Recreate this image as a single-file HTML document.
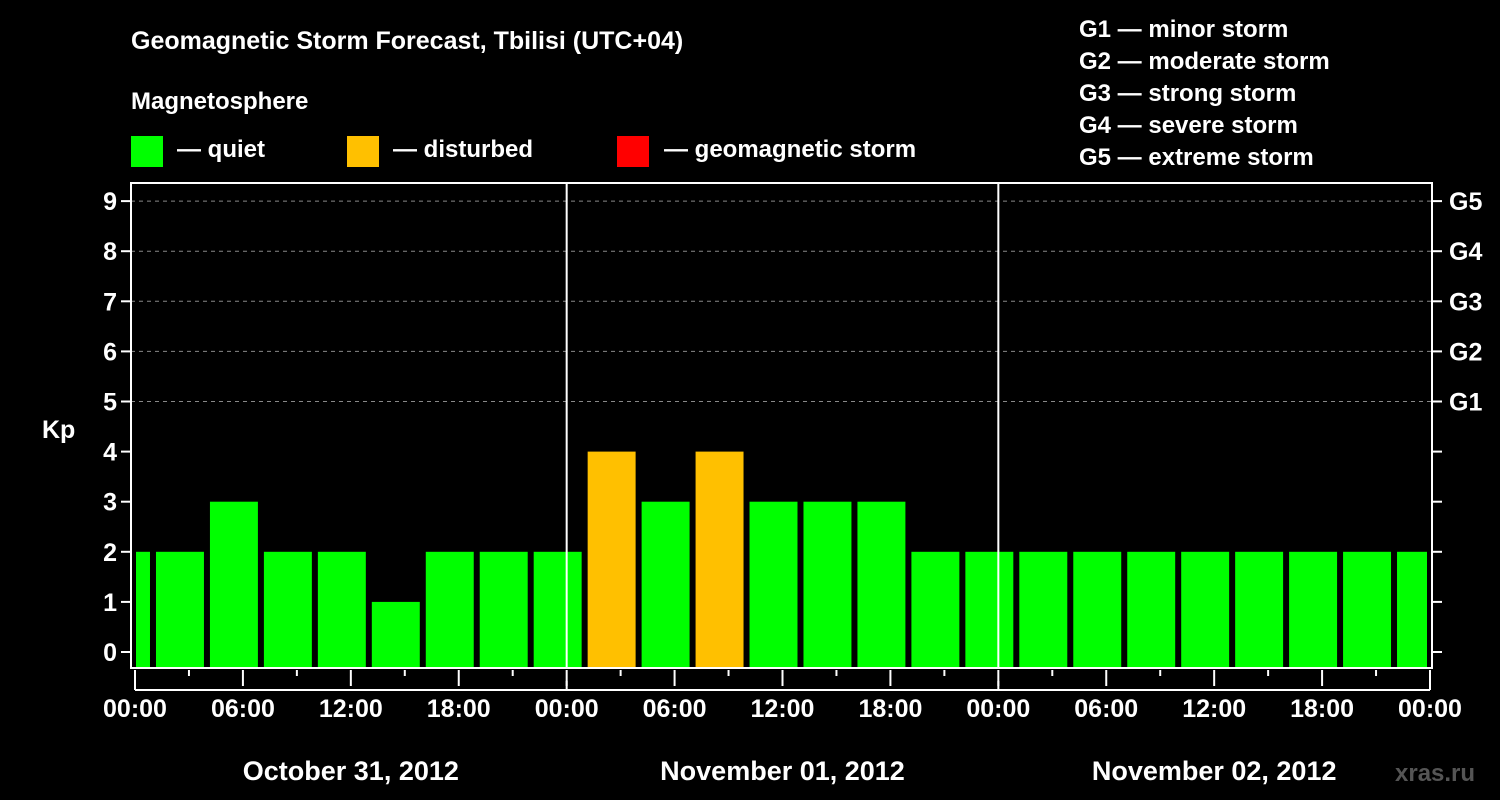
<!DOCTYPE html>
<html><head><meta charset="utf-8"><style>
body{margin:0;background:#000;width:1500px;height:800px;overflow:hidden}
svg{display:block;font-family:"Liberation Sans",Arial,sans-serif;font-weight:bold}
</style></head><body>
<svg id="chart" width="1500" height="800" viewBox="0 0 1500 800">
<rect width="1500" height="800" fill="#000"/>
<text x="131" y="49" fill="#fff" font-size="25">Geomagnetic Storm Forecast, Tbilisi (UTC+04)</text>
<text x="131" y="109" fill="#fff" font-size="24">Magnetosphere</text>
<g><rect x="131" y="136" width="32" height="31" fill="#00ff00"/><text x="177" y="157" fill="#fff" font-size="24">— quiet</text></g>
<g><rect x="347" y="136" width="32" height="31" fill="#ffc000"/><text x="393" y="157" fill="#fff" font-size="24">— disturbed</text></g>
<g><rect x="617" y="136" width="32" height="31" fill="#ff0000"/><text x="664" y="157" fill="#fff" font-size="24">— geomagnetic storm</text></g>
<g fill="#fff" font-size="24">
<text x="1079" y="37">G1 — minor storm</text>
<text x="1079" y="69">G2 — moderate storm</text>
<text x="1079" y="101">G3 — strong storm</text>
<text x="1079" y="133">G4 — severe storm</text>
<text x="1079" y="165">G5 — extreme storm</text>
</g>
<text x="42" y="438" fill="#fff" font-size="25">Kp</text>
<g id="grid"></g><g id="bars"></g><g id="axes"></g>
<text x="1395" y="781" fill="#555" font-size="24">xras.ru</text>
</svg>
<script>
const kpValues=[2,2,3,2,2,1,2,2,2,4,3,4,3,3,3,2,2,2,2,2,2,2,2,2,2];
const barStartHours=[-2,1,4,7,10,13,16,19,22,25,28,31,34,37,40,43,46,49,52,55,58,61,64,67,70];
const timeTickLabels=["00:00","06:00","12:00","18:00","00:00","06:00","12:00","18:00","00:00","06:00","12:00","18:00","00:00"];
const dateLabels=["October 31, 2012","November 01, 2012","November 02, 2012"];
const kpTicks=[0,1,2,3,4,5,6,7,8,9];
const gLabels=["G1","G2","G3","G4","G5"];
const NS="http://www.w3.org/2000/svg";
const X0=135,X1=1430,L=131,R=1432,T=183,B=668;
const xs=h=>X0+(X1-X0)*h/72;
const ys=v=>652-v*50.1;
function mk(tag,attrs,parent,txt){const e=document.createElementNS(NS,tag);for(const k in attrs)e.setAttribute(k,attrs[k]);if(txt!==undefined)e.textContent=txt;parent.appendChild(e);return e;}
const grid=document.getElementById('grid'),bars=document.getElementById('bars'),axes=document.getElementById('axes');
for(let v=5;v<=9;v++){const l=mk('line',{x1:L,x2:R,y1:ys(v),y2:ys(v),stroke:'#888','stroke-dasharray':'4,4','stroke-width':1},grid);

}
kpValues.forEach((v,i)=>{const h0=Math.max(0,barStartHours[i]),h1=Math.min(72,barStartHours[i]+3);
let x0=xs(h0)+(barStartHours[i]<0?1:3),x1=xs(h1)-3;
const col=v>=5?'#ff0000':(v>=4?'#ffc000':'#00ff00');
const r=mk('rect',{x:x0,y:ys(v),width:x1-x0,height:B-ys(v),fill:col},bars);

});
// frame
const f=mk('rect',{x:L,y:T,width:R-L,height:B-T,fill:'none',stroke:'#fff','stroke-width':2},axes);


[24,48].forEach(h=>{const d=mk('line',{x1:xs(h),x2:xs(h),y1:T,y2:B,stroke:'#fff','stroke-width':2},axes);

});
kpTicks.forEach(v=>{mk('line',{x1:L-10,x2:L,y1:ys(v),y2:ys(v),stroke:'#fff','stroke-width':2},axes);
mk('line',{x1:R,x2:R+10,y1:ys(v),y2:ys(v),stroke:'#fff','stroke-width':2},axes);
const t=mk('text',{x:L-14,y:ys(v)+9,fill:'#fff','font-size':25,'text-anchor':'end'},axes,String(v));

});
gLabels.forEach((g,i)=>{const t=mk('text',{x:1449,y:ys(5+i)+9,fill:'#fff','font-size':25},axes,g);

});
for(let h=0;h<=72;h+=3){const major=h%6===0;mk('line',{x1:xs(h),x2:xs(h),y1:B+2,y2:B+(major?18:8),stroke:'#fff','stroke-width':2},axes);}
timeTickLabels.forEach((s,i)=>{const t=mk('text',{x:xs(i*6),y:717,fill:'#fff','font-size':25,'text-anchor':'middle'},axes,s);

});
mk('line',{x1:xs(0),x2:xs(72),y1:690,y2:690,stroke:'#fff','stroke-width':2},axes);
[0,24,48,72].forEach(h=>mk('line',{x1:xs(h),x2:xs(h),y1:681,y2:690,stroke:'#fff','stroke-width':2},axes));
dateLabels.forEach((s,i)=>{const t=mk('text',{x:xs(i*24+12),y:780,fill:'#fff','font-size':27,'text-anchor':'middle'},axes,s);

});
</script>
</body></html>
